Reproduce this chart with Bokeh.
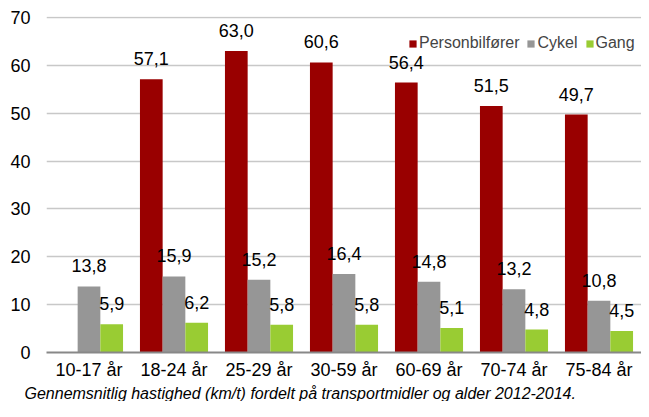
import math
from bokeh.plotting import figure
from bokeh.core.properties import value
from bokeh.models import (ColumnDataSource, FactorRange, Range1d, FixedTicker, LabelSet,
                          Legend, LegendItem, Title)
from bokeh.transform import dodge
from bokeh.embed import file_html
from bokeh.resources import INLINE

categories = ["10-17 år", "18-24 år", "25-29 år", "30-59 år", "60-69 år", "70-74 år", "75-84 år"]
personbil = [float("nan"), 57.1, 63.0, 60.6, 56.4, 51.5, 49.7]
cykel = [13.8, 15.9, 15.2, 16.4, 14.8, 13.2, 10.8]
gang = [5.9, 6.2, 5.8, 5.8, 5.1, 4.8, 4.5]
series_names = ["Personbilfører", "Cykel", "Gang"]
colors = ["#990000", "#969696", "#99CC33"]
y_ticks = [0, 10, 20, 30, 40, 50, 60, 70]
caption = "Gennemsnitlig hastighed (km/t) fordelt på transportmidler og alder 2012-2014."

FONT = "Liberation Sans"


def fmt(v):
    return "" if (v is None or (isinstance(v, float) and math.isnan(v))) else f"{v:.1f}".replace(".", ",")


p = figure(x_range=FactorRange(*categories, range_padding=0), y_range=Range1d(0, 70.2),
           width=641, height=401, output_backend="svg", toolbar_location=None,
           min_border_left=46, min_border_right=0, min_border_top=16, min_border_bottom=0)
p.outline_line_color = None
p.background_fill_color = "white"
p.border_fill_color = "white"

bw = 0.267
offsets = [-bw, 0.0, bw]
renderers = []
for name, vals, col, off in zip(series_names, [personbil, cykel, gang], colors, offsets):
    src = ColumnDataSource(dict(x=categories, y=vals, t=[fmt(v) for v in vals]))
    r = p.vbar(x=dodge("x", off, range=p.x_range), top="y", width=bw, source=src,
               fill_color=col, line_color=None)
    renderers.append(r)
    p.add_layout(LabelSet(x=dodge("x", off, range=p.x_range), y="y", text="t", source=src,
                          y_offset=14, text_align="center", text_baseline="alphabetic",
                          text_font=value(FONT), text_font_size=value("18px"),
                          text_color=value("#000000")))

legend = Legend(items=[LegendItem(label=n, renderers=[r]) for n, r in zip(series_names, renderers)],
                orientation="horizontal", location=(362, 300),
                glyph_width=9, glyph_height=9, label_standoff=2, spacing=7, padding=0,
                label_text_font=FONT, label_text_font_size="16px", label_height=16,
                border_line_color=None, background_fill_alpha=0)
p.add_layout(legend, "center")

p.yaxis.ticker = FixedTicker(ticks=y_ticks)
p.yaxis.axis_line_color = None
p.yaxis.major_tick_line_color = None
p.yaxis.minor_tick_line_color = None
p.yaxis.major_tick_out = 0
p.yaxis.minor_tick_out = 0
p.yaxis.major_label_text_font = FONT
p.yaxis.major_label_text_font_size = "18px"
p.yaxis.major_label_text_color = "#000000"
p.yaxis.major_label_standoff = 16

p.xaxis.axis_line_color = "#888888"
p.xaxis.axis_line_width = 2
p.xaxis.major_tick_line_color = None
p.xaxis.minor_tick_line_color = None
p.xaxis.major_tick_out = 0
p.xaxis.minor_tick_out = 0
p.xaxis.major_label_text_font = FONT
p.xaxis.major_label_text_font_size = "18px"
p.xaxis.major_label_text_color = "#000000"
p.xaxis.major_label_standoff = 7

p.xgrid.grid_line_color = None
p.ygrid.grid_line_color = "#C8C8C8"
p.ygrid.grid_line_width = 1.5

p.add_layout(Title(text=caption, align="left", text_font=FONT, text_font_style="italic",
                   text_font_size="16px", text_color="#000000", offset=-22, standoff=0), "below")

open("out.html", "w").write(file_html(p, INLINE))
